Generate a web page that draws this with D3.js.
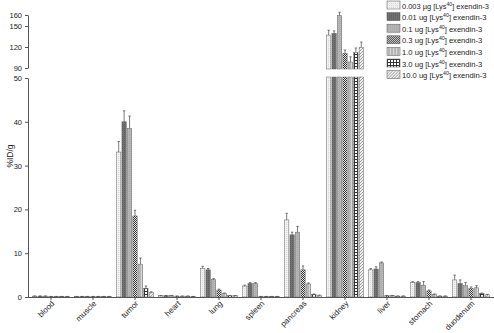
<!DOCTYPE html>
<html>
<head>
<meta charset="utf-8">
<script src="https://cdn.jsdelivr.net/npm/d3@7"></script>
<style>
  body { margin: 0; background: #fff; }
  text { font-family: "Liberation Sans", Arial, sans-serif; fill: #222; }
</style>
</head>
<body>
<div id="chart"></div>
<script>
/* biodistribution bar chart with broken y axis */

const organs = ["blood", "muscle", "tumor", "heart", "lung", "spleen", "pancreas", "kidney", "liver", "stomach", "duodenum"];
const doses = ["0.003 µg", "0.01 ug", "0.1 ug", "0.3 ug", "1.0 ug", "3.0 ug", "10.0 ug"];

// %ID/g per dose, same order as organs
const dose0003 = [0.2, 0.1, 33.1, 0.3, 6.5, 2.5, 17.6, 137, 6.2, 3.3, 3.9];
const dose001  = [0.2, 0.1, 40.0, 0.3, 6.2, 3.1, 14.2, 139.6, 6.4, 3.3, 3.1];
const dose01   = [0.2, 0.1, 38.5, 0.3, 4.0, 3.1, 14.8, 159.4, 7.8, 2.7, 2.6];
const dose03   = [0.1, 0.1, 18.5, 0.2, 1.6, 0.1, 6.2, 111, 0.3, 1.4, 2.0];
const dose1    = [0.1, 0.1, 7.5, 0.2, 0.8, 0.1, 3.0, 98.6, 0.3, 0.6, 2.1];
const dose3    = [0.1, 0.1, 2.0, 0.2, 0.3, 0.1, 0.6, 111.9, 0.2, 0.2, 0.8];
const dose10   = [0.1, 0.1, 1.0, 0.1, 0.3, 0.1, 0.4, 119.6, 0.2, 0.2, 0.5];

// standard deviations (upper whisker only)
const err0003 = [0.05, 0.03, 2.4, 0.05, 0.5, 0.2, 1.5, 7, 0.3, 0.2, 1.1];
const err001  = [0.05, 0.03, 2.5, 0.05, 0.3, 0.2, 0.6, 3.4, 0.5, 0.2, 0.8];
const err01   = [0.05, 0.03, 2.8, 0.05, 0.2, 0.2, 1.3, 3.1, 0.2, 0.8, 0.7];
const err03   = [0.03, 0.03, 1.3, 0.03, 0.2, 0.03, 0.9, 4.7, 0.05, 0.2, 0.3];
const err1    = [0.03, 0.03, 1.4, 0.03, 0.1, 0.03, 0.2, 7.4, 0.05, 0.1, 0.5];
const err3    = [0.03, 0.03, 0.5, 0.03, 0.05, 0.03, 0.1, 6.7, 0.05, 0.05, 0.1];
const err10   = [0.03, 0.03, 0.2, 0.03, 0.05, 0.03, 0.05, 7.4, 0.05, 0.05, 0.1];

const lowTicks = [0, 10, 20, 30, 40, 50];
const highTicks = [90, 120, 150, 160];

const values = [dose0003, dose001, dose01, dose03, dose1, dose3, dose10];
const errors = [err0003, err001, err01, err03, err1, err3, err10];

const width = 494, height = 333;
const font = "Liberation Sans, Arial, sans-serif";

const svg = d3.select("#chart").append("svg")
    .attr("width", width)
    .attr("height", height);

// fill patterns, one per dose
const defs = svg.append("defs");
const pat = (id, w, h) => defs.append("pattern").attr("id", id)
    .attr("patternUnits", "userSpaceOnUse").attr("width", w).attr("height", h);

let p = pat("p0", 2, 2);
p.append("rect").attr("width", 2).attr("height", 2).attr("fill", "#f2f2f2");
p.append("rect").attr("width", 1).attr("height", 1).attr("fill", "#d4d4d4");

p = pat("p1", 2, 2);
p.append("rect").attr("width", 2).attr("height", 2).attr("fill", "#707070");
p.append("rect").attr("width", 1).attr("height", 1).attr("fill", "#5e5e5e");

p = pat("p2", 2, 2);
p.append("rect").attr("width", 2).attr("height", 2).attr("fill", "#aeaeae");
p.append("rect").attr("width", 1).attr("height", 1).attr("fill", "#bdbdbd");

p = pat("p3", 2, 2);
p.append("rect").attr("width", 2).attr("height", 2).attr("fill", "#e8e8e8");
p.append("rect").attr("width", 1).attr("height", 1).attr("fill", "#333");
p.append("rect").attr("x", 1).attr("y", 1).attr("width", 1).attr("height", 1).attr("fill", "#333");

p = pat("p4", 3, 3);
p.append("rect").attr("width", 3).attr("height", 3).attr("fill", "#b4b4b4");
p.append("rect").attr("width", 1).attr("height", 3).attr("fill", "#d8d8d8");

p = pat("p5", 3, 3);
p.append("rect").attr("width", 3).attr("height", 3).attr("fill", "#fff");
p.append("rect").attr("width", 3).attr("height", 1).attr("fill", "#333");
p.append("rect").attr("width", 1).attr("height", 3).attr("fill", "#333");

p = pat("p6", 3, 3);
p.append("rect").attr("width", 3).attr("height", 3).attr("fill", "#f0f0f0");
p.append("path").attr("d", "M0,3 L3,0 M-1,1 L1,-1 M2,4 L4,2")
    .attr("stroke", "#8a8a8a").attr("stroke-width", 0.8);

// scales
let x = d3.scaleBand()
    .domain(organs)
    .range([30, 492])
    .padding(0);

let xs = d3.scaleBand()
    .domain(d3.range(doses.length))
    .range([0, 37])
    .paddingInner(0.2);

let yLow = d3.scaleLinear().domain([0, 50]).range([297, 78]);
let yHigh = d3.scaleLinear().domain([90, 150, 160]).range([68, 26, 15]);

const offset = (x.bandwidth() - 37) / 2;

// bars
values.forEach((vals, di) => {
    const g = svg.append("g");
    vals.forEach((v, oi) => {
        const bx = x(organs[oi]) + offset + xs(di);
        const bw = xs.bandwidth();
        const e = errors[di][oi];
        const cx = bx + bw / 2;
        if (v <= 50) {
            g.append("rect")
                .attr("x", bx).attr("width", bw)
                .attr("y", yLow(v)).attr("height", yLow(0) - yLow(v))
                .attr("fill", `url(#p${di})`)
                .attr("stroke", "#666").attr("stroke-width", 0.5);
            g.append("path")
                .attr("d", `M${cx},${yLow(v)}V${yLow(v + e)}M${cx - 1.2},${yLow(v + e)}h2.4`)
                .attr("stroke", "#444").attr("stroke-width", 0.7).attr("fill", "none");
        } else {
            g.append("rect")
                .attr("x", bx).attr("width", bw)
                .attr("y", yLow(50) - 1).attr("height", yLow(0) - yLow(50) + 1)
                .attr("fill", `url(#p${di})`)
                .attr("stroke", "#666").attr("stroke-width", 0.5);
            g.append("rect")
                .attr("x", bx).attr("width", bw)
                .attr("y", yHigh(v)).attr("height", yHigh(90) - yHigh(v) + 1)
                .attr("fill", `url(#p${di})`)
                .attr("stroke", "#666").attr("stroke-width", 0.5);
            g.append("path")
                .attr("d", `M${cx},${yHigh(v)}V${yHigh(v + e)}M${cx - 1.2},${yHigh(v + e)}h2.4`)
                .attr("stroke", "#444").attr("stroke-width", 0.7).attr("fill", "none");
        }
    });
});

// axes
const axisStyle = g => {
    g.attr("font-family", font);
    g.selectAll("path, line").attr("stroke", "#555");
    g.selectAll("text").attr("font-size", 7.5);
};

svg.append("g")
    .attr("transform", "translate(28,0)")
    .call(d3.axisLeft(yLow).tickValues(lowTicks).tickSize(3).tickSizeOuter(0))
    .call(axisStyle);

svg.append("g")
    .attr("transform", "translate(28,0)")
    .call(d3.axisLeft(yHigh).tickValues(highTicks).tickSize(3).tickSizeOuter(0))
    .call(axisStyle);

const xAxis = svg.append("g")
    .attr("transform", "translate(0,297)")
    .call(d3.axisBottom(x).tickSize(3).tickSizeOuter(0))
    .call(axisStyle);

xAxis.select(".domain").attr("d", "M28,0.5H494");
xAxis.selectAll("text")
    .attr("font-size", 8)
    .attr("text-anchor", "end")
    .attr("dy", null)
    .attr("y", 0)
    .attr("transform", "translate(4,7) rotate(-45)");

// y label
svg.append("text")
    .attr("transform", "translate(13,156) rotate(-90)")
    .attr("text-anchor", "middle")
    .attr("font-family", font)
    .attr("font-size", 8.5)
    .text("%ID/g");

// legend
const legend = svg.append("g").attr("transform", "translate(387,1)");
doses.forEach((d, i) => {
    const row = legend.append("g").attr("transform", `translate(0,${i * 11.6})`);
    row.append("rect")
        .attr("width", 13).attr("height", 8)
        .attr("fill", `url(#p${i})`)
        .attr("stroke", "#555").attr("stroke-width", 0.5);
    const t = row.append("text")
        .attr("x", 15).attr("y", 7.5)
        .attr("font-family", font)
        .attr("font-size", 7.6)
        .attr("textLength", i === 0 ? 87 : null)
        .attr("lengthAdjust", "spacingAndGlyphs");
    t.append("tspan").text(d + " [Lys");
    t.append("tspan").attr("dy", -3).attr("font-size", 5.2).text("40");
    t.append("tspan").attr("dy", 3).text("] exendin-3");
});
</script>
</body>
</html>
